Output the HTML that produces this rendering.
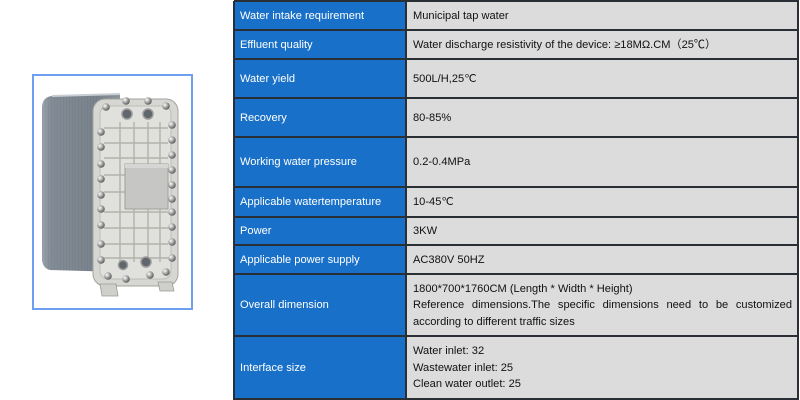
<!DOCTYPE html>
<html>
<head>
<meta charset="utf-8">
<style>
html,body{margin:0;padding:0;background:#fff;}
body{width:800px;height:400px;position:relative;overflow:hidden;font-family:"Liberation Sans",Arial,sans-serif;}
.c{position:absolute;box-sizing:border-box;display:flex;align-items:center;font-size:11.1px;line-height:16.5px;}
.l{left:234px;width:172px;background:#1870c8;color:#fff;padding-left:6px;}
.r{left:406px;width:392px;background:#dcdcdc;color:#111;padding-left:7px;padding-right:6px;}
.h{position:absolute;left:234px;width:565px;height:2px;background:#2a2f36;}
.v{position:absolute;top:1px;width:2px;height:399px;background:#2a2f36;}
.j{text-align:justify;text-align-last:left;}
.frame{position:absolute;left:32px;top:74px;width:161px;height:236px;box-sizing:border-box;border:2px solid #6f9ef3;background:#fff;}
</style>
</head>
<body>
<div class="frame"></div>
<svg style="position:absolute;left:0;top:0" width="230" height="400" viewBox="0 0 230 400">
<defs>
<linearGradient id="side" x1="0" y1="0" x2="1" y2="0">
<stop offset="0" stop-color="#9aa2ab"/>
<stop offset="0.12" stop-color="#838c96"/>
<stop offset="0.7" stop-color="#79828c"/>
<stop offset="1" stop-color="#8e959d"/>
</linearGradient>
<pattern id="str" width="3" height="4" patternUnits="userSpaceOnUse">
<rect width="1" height="4" fill="#000" opacity="0.04"/>
</pattern>
<radialGradient id="bolt" cx="0.35" cy="0.35" r="0.7">
<stop offset="0" stop-color="#ffffff"/>
<stop offset="0.45" stop-color="#aeaeae"/>
<stop offset="1" stop-color="#555"/>
</radialGradient>
</defs>
<!-- side body -->
<path d="M52 96 L120 94 L120 272 L50 270 Q42 268 42 258 L42 108 Q42 97 52 96 Z" fill="url(#side)"/>
<path d="M52 96 L120 94 L120 272 L50 270 Q42 268 42 258 L42 108 Q42 97 52 96 Z" fill="url(#str)"/>
<path d="M52 96 L120 94" stroke="#c9ced3" stroke-width="2"/>
<!-- front panel -->
<rect x="93" y="99" width="85" height="187" rx="12" fill="#d6d6d2" stroke="#a3a39d" stroke-width="1"/>
<rect x="100" y="106" width="71" height="173" rx="8" fill="#e0e0dc" stroke="#bdbdb7" stroke-width="1"/>
<!-- ribs -->
<g stroke="#b3b3ad" stroke-width="1.4">
<line x1="104" y1="128" x2="168" y2="128"/>
<line x1="104" y1="143" x2="168" y2="143"/>
<line x1="104" y1="158" x2="168" y2="158"/>
<line x1="104" y1="175" x2="168" y2="175"/>
<line x1="104" y1="192" x2="168" y2="192"/>
<line x1="104" y1="212" x2="168" y2="212"/>
<line x1="104" y1="228" x2="168" y2="228"/>
<line x1="104" y1="244" x2="168" y2="244"/>
<line x1="104" y1="258" x2="168" y2="258"/>
<line x1="120" y1="122" x2="120" y2="262"/>
<line x1="134" y1="122" x2="134" y2="262"/>
<line x1="148" y1="122" x2="148" y2="262"/>
<line x1="160" y1="122" x2="160" y2="262"/>
</g>
<!-- center box -->
<rect x="125" y="164" width="43" height="45" fill="#c6c6c4" stroke="#a0a09e" stroke-width="1"/>
<rect x="125" y="164" width="43" height="4" fill="#d6d6d4"/>
<!-- gauges -->
<g fill="#5f666c" stroke="#9a9a9a" stroke-width="1.5">
<circle cx="127" cy="114" r="5"/>
<circle cx="148" cy="114" r="5"/>
<circle cx="123" cy="265" r="4.5"/>
<circle cx="146" cy="262" r="5"/>
</g>
<!-- bolts -->
<g fill="url(#bolt)">
<circle cx="106" cy="107" r="3.8"/><circle cx="126" cy="101" r="3.8"/><circle cx="148" cy="101" r="3.8"/><circle cx="166" cy="106" r="3.8"/>
<circle cx="101" cy="132" r="3.8"/><circle cx="101" cy="147" r="3.8"/><circle cx="101" cy="164" r="3.8"/><circle cx="101" cy="179" r="3.8"/>
<circle cx="101" cy="195" r="3.8"/><circle cx="101" cy="209" r="3.8"/><circle cx="101" cy="225" r="3.8"/><circle cx="101" cy="244" r="3.8"/><circle cx="101" cy="260" r="3.8"/>
<circle cx="172" cy="125" r="3.8"/><circle cx="172" cy="140" r="3.8"/><circle cx="172" cy="155" r="3.8"/><circle cx="172" cy="170" r="3.8"/>
<circle cx="172" cy="185" r="3.8"/><circle cx="172" cy="199" r="3.8"/><circle cx="172" cy="212" r="3.8"/><circle cx="172" cy="227" r="3.8"/><circle cx="172" cy="242" r="3.8"/><circle cx="172" cy="258" r="3.8"/>
<circle cx="108" cy="276" r="3.8"/><circle cx="126" cy="279" r="3.8"/><circle cx="150" cy="275" r="3.8"/><circle cx="166" cy="272" r="3.8"/>
</g>
<!-- feet -->
<g fill="#cfcfcb" stroke="#9b9b97" stroke-width="0.8">
<path d="M100 284 L116 284 L118 296 L102 296 Z"/>
<path d="M158 282 L172 282 L174 291 L160 291 Z"/>
</g>
</svg>

<!-- rows -->
<div class="c l" style="top:1px;height:30px">Water intake requirement</div>
<div class="c r" style="top:1px;height:30px">Municipal tap water</div>

<div class="c l" style="top:30px;height:30px">Effluent quality</div>
<div class="c r" style="top:30px;height:30px">Water discharge resistivity of the device: ≥18MΩ.CM（25℃）</div>

<div class="c l" style="top:59px;height:40px">Water yield</div>
<div class="c r" style="top:59px;height:40px">500L/H,25℃</div>

<div class="c l" style="top:98px;height:40px">Recovery</div>
<div class="c r" style="top:98px;height:40px">80-85%</div>

<div class="c l" style="top:137px;height:51px">Working water pressure</div>
<div class="c r" style="top:137px;height:51px">0.2-0.4MPa</div>

<div class="c l" style="top:187px;height:31px">Applicable watertemperature</div>
<div class="c r" style="top:187px;height:31px">10-45℃</div>

<div class="c l" style="top:217px;height:29px">Power</div>
<div class="c r" style="top:217px;height:29px">3KW</div>

<div class="c l" style="top:245px;height:30px">Applicable power supply</div>
<div class="c r" style="top:245px;height:30px">AC380V 50HZ</div>

<div class="c l" style="top:274px;height:63px">Overall dimension</div>
<div class="c r" style="top:274px;height:63px"><div class="j">1800*700*1760CM (Length * Width * Height)<br>Reference dimensions.The specific dimensions need to be customized according to different traffic sizes</div></div>

<div class="c l" style="top:336px;height:64px">Interface size</div>
<div class="c r" style="top:336px;height:64px"><div>Water inlet: 32<br>Wastewater inlet: 25<br>Clean water outlet: 25</div></div>

<!-- grid lines -->
<div class="h" style="top:0px"></div>
<div class="h" style="top:29px"></div>
<div class="h" style="top:58px"></div>
<div class="h" style="top:97px"></div>
<div class="h" style="top:136px"></div>
<div class="h" style="top:186px"></div>
<div class="h" style="top:216px"></div>
<div class="h" style="top:244px"></div>
<div class="h" style="top:273px"></div>
<div class="h" style="top:335px"></div>
<div class="h" style="top:398px"></div>
<div class="v" style="left:233px"></div>
<div class="v" style="left:405px"></div>
<div class="v" style="left:797px"></div>
</body>
</html>
